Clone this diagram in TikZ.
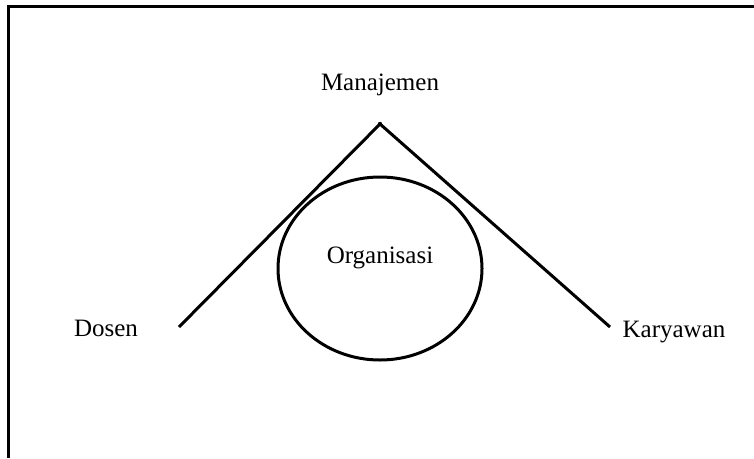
\documentclass[tikz,border=0pt]{standalone}
\usepackage{fontspec}
\setmainfont{Liberation Serif}
\usetikzlibrary{shapes.geometric}
\begin{document}
\begin{tikzpicture}[x=1pt,y=-1pt,
  lbl/.style={font=\fontsize{25}{30}\selectfont, inner sep=0pt},
  edge/.style={line width=3pt},
  frameline/.style={line width=3pt}]
\useasboundingbox (0,0) rectangle (754,458);
\fill[white] (0,0) rectangle (754,458);
% frame (top and left edges visible)
\coordinate (fbl) at (8,458);
\coordinate (ftl) at (8,6.5);
\coordinate (ftr) at (754,6.5);
\draw[frameline] (fbl) -- (ftl) -- (ftr);
% apex and line ends
\coordinate (apex) at (380,124);
\coordinate (lend) at (179,327);
\coordinate (rend) at (610,327);
\draw[edge, line join=miter] (lend) -- (apex) -- (rend);
\fill (apex) circle (2.2);
% organisation ellipse
\node[draw, ellipse, line width=3pt, minimum width=204pt, minimum height=183pt, inner sep=0pt] (org) at (380,268.5) {};
\node[lbl] (orgl) at (380,258) {Organisasi};
\node[lbl] (man) at (380,85) {Manajemen};
\node[lbl] (dos) at (106,328) {Dosen};
\node[lbl] (kar) at (674,332) {Karyawan};
\end{tikzpicture}
\end{document}
